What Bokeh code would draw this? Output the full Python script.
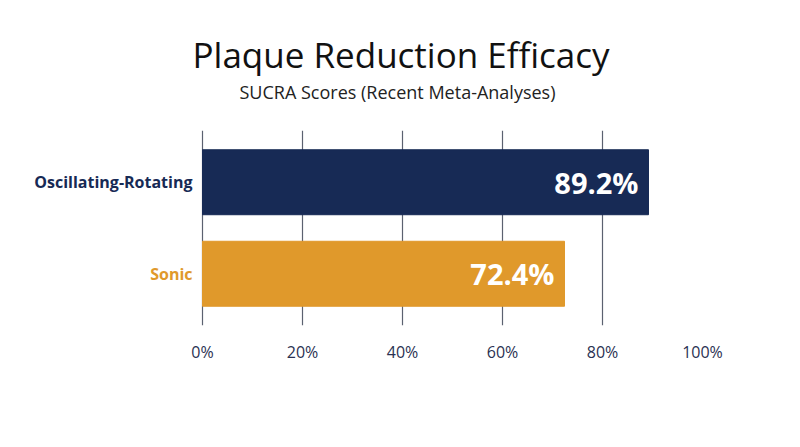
from bokeh.plotting import figure
from bokeh.models import (ColumnDataSource, FactorRange, FixedTicker, PrintfTickFormatter,
                          Title, Range1d)
from bokeh.core.properties import value
from bokeh.embed import file_html
from bokeh.resources import INLINE

# ---- data ----
methods = ["Sonic", "Oscillating-Rotating"]
sucra = [72.4, 89.2]
bar_colors = ["#e0992b", "#172a55"]
tick_values = [0, 20, 40, 60, 80, 100]

FONT = "Open Sans"

src = ColumnDataSource(dict(
    method=methods,
    score=sucra,
    color=bar_colors,
    label=[f"{v:.1f}%" for v in sucra],
))

p = figure(
    width=784, height=431,
    y_range=FactorRange(factors=methods, range_padding=0.0655),
    x_range=Range1d(-40.4, 100),
    output_backend="svg", toolbar_location=None, title=None,
    min_border_left=0, min_border_right=82, min_border_bottom=106, min_border_top=130,
)

sub = Title(text="SUCRA Scores (Recent Meta-Analyses)", align="left",
            text_font=FONT, text_font_size="18px", text_font_style="normal",
            text_color="#222222", standoff=54, offset=239)
p.add_layout(sub, "above")
main = Title(text="Plaque Reduction Efficacy", align="left",
             text_font=FONT, text_font_size="35px", text_font_style="normal",
             text_color="#111111", standoff=-54, offset=192)
p.add_layout(main, "above")

p.hbar(y="method", right="score", left=0, height=0.71, color="color", source=src)

# value labels inside bars
p.text(x="score", y="method", text="label", source=src, x_offset=-10,
       text_align="right", text_baseline="middle", text_color="white",
       text_font=value(FONT), text_font_size="29px", text_font_style="bold")

# category labels left of the zero line
p.text(x=0, y="method", text="method", source=src, x_offset=-10,
       text_align="right", text_baseline="middle", text_color="color",
       text_font=value(FONT), text_font_size="16px", text_font_style="bold")

p.yaxis.visible = False
p.ygrid.grid_line_color = None

p.xaxis.ticker = FixedTicker(ticks=tick_values)
p.xaxis.formatter = PrintfTickFormatter(format="%d%%")
p.xaxis.axis_line_color = None
p.xaxis.major_tick_line_color = None
p.xaxis.minor_tick_line_color = None
p.xaxis.major_label_standoff = 9
p.xaxis.major_label_text_font = FONT
p.xaxis.major_label_text_font_size = "16px"
p.xaxis.major_label_text_color = "#2a3152"

p.xgrid.ticker = FixedTicker(ticks=tick_values)
p.xgrid.grid_line_color = "#5b6170"
p.xgrid.grid_line_width = 1.2

p.outline_line_color = None
p.background_fill_color = "white"
p.border_fill_color = "white"

open("out.html", "w").write(file_html(p, INLINE))
